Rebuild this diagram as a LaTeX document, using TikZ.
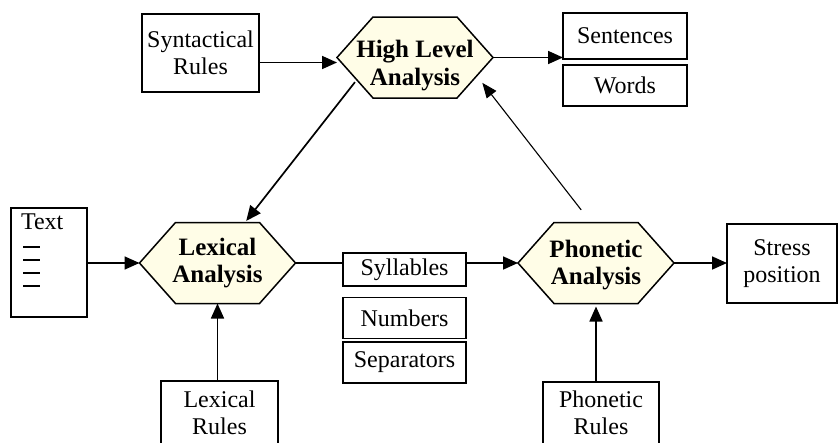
\documentclass[tikz,border=0pt]{standalone}
\usepackage{fontspec}
\setmainfont{Liberation Serif}
\usetikzlibrary{arrows.meta,calc}
\definecolor{hexfill}{RGB}{255,253,231}
% a hexagonal stage: an invisible frame that carries the anchors,
% the outline drawn from its corners, and the bold label on top
% (#4 moves the label down inside the outline)
\newcommand\hexstage[4]{%
  \node[hexframe] (#1) at #2 {};
  \draw[hexline] (#1.west) -- ([xshift=36pt]#1.north west)
    -- ([xshift=-36pt]#1.north east) -- (#1.east)
    -- ([xshift=-36pt]#1.south east) -- ([xshift=36pt]#1.south west) -- cycle;
  \node[hexlabel] (#1-label) at ([yshift=-#4]#1.center) {#3};
}
\begin{document}
\begin{tikzpicture}[x=1pt,y=-1pt,
  every node/.style={font=\fontsize{24}{27}\selectfont, align=center, inner sep=0pt, outer sep=0pt},
  box/.style={draw, line width=1.9pt, fill=white},
  hexframe/.style={rectangle, minimum width=156pt, minimum height=81pt},
  hexline/.style={draw, line width=1.5pt, fill=hexfill, line join=miter},
  hexlabel/.style={font=\fontsize{25}{27.5}\selectfont\bfseries},
  arr/.style={line width=1.7pt, -{Triangle[length=15pt,width=13pt]}},
  thinarr/.style={line width=1.1pt, -{Triangle[length=15pt,width=12pt]}},
  dashmark/.style={line width=1.3pt}
]
\useasboundingbox (0,0) rectangle (838,442);

% analysis stages
\hexstage{hla}{(415,57.5)}{High Level\\Analysis}{8pt}
\hexstage{lex}{(217.5,263)}{Lexical\\Analysis}{0pt}
\hexstage{pho}{(596,263)}{Phonetic\\Analysis}{2pt}

% rule sets and outputs
\node[box, minimum width=117pt, minimum height=78pt] (syn) at (200.5,53) {Syntactical\\Rules};
\node[box, minimum width=124pt, minimum height=46pt] (sent) at (625,36) {Sentences};
\node[box, minimum width=124pt, minimum height=41pt] (word) at (625,85.5) {Words};
\node[box, minimum width=123pt, minimum height=33pt] (syl) at (404.5,269.5) {Syllables};
\node[box, minimum width=123pt, minimum height=41pt] (num) at (404.5,318) {Numbers};
\node[box, minimum width=123pt, minimum height=41pt] (sep) at (404.5,362.5) {Separators};
\node[box, minimum width=110pt, minimum height=79pt] (str) at (782,263.5) {Stress\\position};
\node[box, minimum width=117pt, minimum height=63pt] (lr) at (219.5,412.5) {Lexical\\Rules};
\node[box, minimum width=116pt, minimum height=62pt] (pr) at (601,413) {Phonetic\\Rules};

% input text document
\node[box, minimum width=76pt, minimum height=109pt] (txt) at (49,262.5) {};
\node[anchor=north west] (txtlabel) at ([xshift=10pt,yshift=-6pt]txt.north west) {Text};
\draw[dashmark] (23,247) -- (40,247);
\draw[dashmark] (23,260) -- (40,260);
\draw[dashmark] (23,273) -- (40,273);
\draw[dashmark] (23,286) -- (40,286);

% connectors
\draw[arr] ([yshift=-5pt]syn.east |- hla.west) -- ([yshift=-5pt]hla.west);
\draw[arr] (hla.east) -- (hla.east -| sent.west);
\draw[arr] (txt.east |- lex.west) -- (lex.west);
\draw[line width=1.7pt] (lex.east) -- (lex.east -| syl.west);
\draw[arr] (syl.east |- pho.west) -- (pho.west);
\draw[arr] (pho.east) -- (pho.east -| str.west);
\draw[arr] (lex.south |- lr.north) -- (lex.south);
\draw[arr, shorten >=3pt] (pho.south |- pr.north) -- (pho.south);
\draw[arr, shorten <=3pt, shorten >=2pt]
  ($(hla.west)!0.55!([xshift=36pt]hla.south west)$) -- ([xshift=27.5pt]lex.north);
\draw[thinarr, shorten <=16pt, shorten >=9pt]
  ([xshift=-5pt]pho.north) -- ($(hla.east)!0.45!([xshift=-36pt]hla.south east)$);
\end{tikzpicture}
\end{document}
